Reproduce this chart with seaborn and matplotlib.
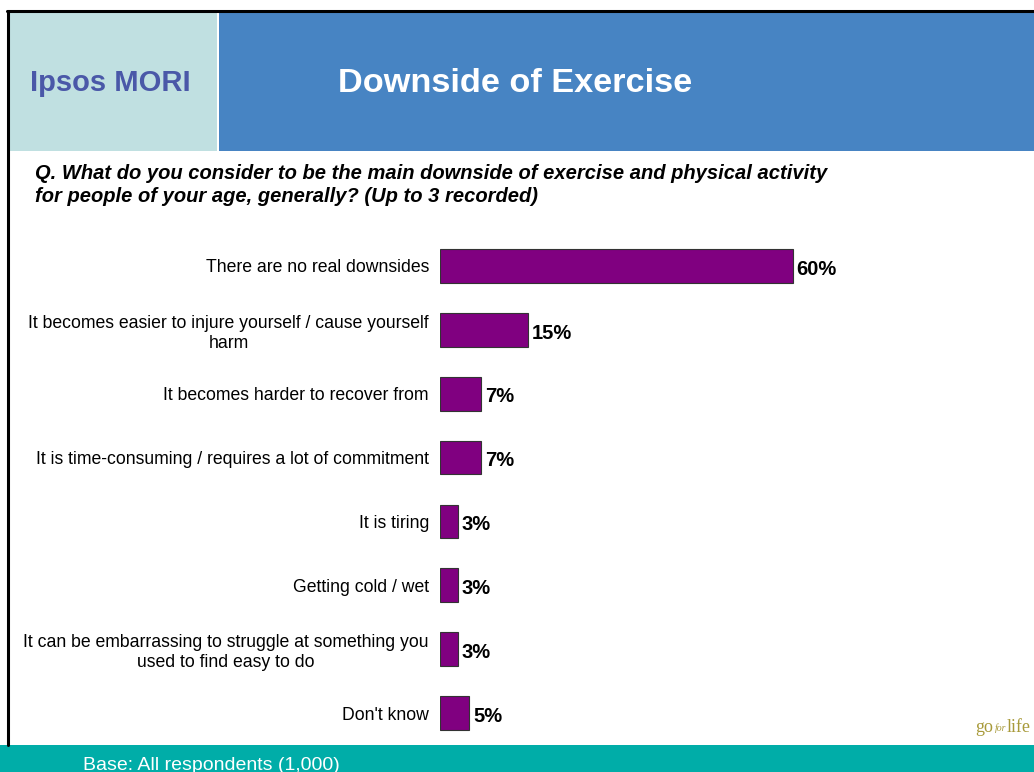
import pandas as pd
import seaborn as sns
import matplotlib.pyplot as plt
from matplotlib.patches import Rectangle
from matplotlib.lines import Line2D

# Data
answers = [
    "There are no real downsides",
    "It becomes easier to injure yourself / cause yourself\nharm",
    "It becomes harder to recover from",
    "It is time-consuming / requires a lot of commitment",
    "It is tiring",
    "Getting cold / wet",
    "It can be embarrassing to struggle at something you\nused to find easy to do",
    "Don't know",
]
percents = [60, 15, 7, 7, 3, 3, 3, 5]

df = pd.DataFrame({"Answer": answers, "Percent": percents})

sns.set_style("white")
plt.rcParams["font.family"] = ["Liberation Sans", "DejaVu Sans"]
plt.rcParams["text.color"] = "black"
plt.rcParams["ytick.labelcolor"] = "black"

W, H = 1034, 772
fig = plt.figure(figsize=(W / 100, H / 100), dpi=100)
fig.patch.set_facecolor("white")


def fx(px):
    return px / W


def fy(py):
    return 1 - py / H


# header panels
fig.patches.append(Rectangle((fx(9), fy(151)), fx(208), (139) / H,
                             transform=fig.transFigure, facecolor="#C0E0E1",
                             edgecolor="none", zorder=0))
fig.patches.append(Rectangle((fx(219), fy(151)), fx(W - 219), (139) / H,
                             transform=fig.transFigure, facecolor="#4784C3",
                             edgecolor="none", zorder=0))
# bottom band
fig.patches.append(Rectangle((0, 0), 1, (H - 745) / H,
                             transform=fig.transFigure, facecolor="#00ADA8",
                             edgecolor="none", zorder=0))
# border lines
fig.lines.append(Line2D([fx(7), 1], [fy(11), fy(11)], transform=fig.transFigure,
                        color="black", linewidth=2.2))
fig.lines.append(Line2D([fx(8), fx(8)], [fy(11), fy(745)], transform=fig.transFigure,
                        color="black", linewidth=2.2))

fig.text(fx(30), fy(83), "Ipsos MORI", color="#4A58A8", fontsize=21,
         fontweight="bold", va="center", ha="left")
fig.text(fx(338), fy(84), "Downside of Exercise", color="white", fontsize=24.7,
         fontweight="bold", va="center", ha="left")
fig.text(fx(35), fy(185),
         "Q. What do you consider to be the main downside of exercise and physical activity\n"
         "for people of your age, generally? (Up to 3 recorded)",
         fontsize=14.5, fontweight="bold", fontstyle="italic", va="center",
         ha="left", linespacing=1.3, color="black")
fig.text(fx(83), fy(765), "Base: All respondents (1,000)", color="white",
         fontsize=14, va="center", ha="left")
fig.text(fx(975), fy(727), "go", color="#A89A3A", fontsize=13,
         family="Liberation Serif", va="center", ha="left")
fig.text(fx(995), fy(728), "for", color="#A89A3A", fontsize=7,
         family="Liberation Serif", fontstyle="italic", va="center", ha="left")
fig.text(fx(1007), fy(727), "life", color="#A89A3A", fontsize=13,
         family="Liberation Serif", va="center", ha="left")

# chart axes
ax = fig.add_axes([fx(440), fy(745), fx(588), (745 - 234) / H])
sns.barplot(data=df, x="Percent", y="Answer", orient="h", color="#800080",
            width=0.53, edgecolor="#333333", linewidth=0.8, saturation=1, ax=ax)
ax.set_xlim(0, 100)
ax.set_ylim(7.5, -0.5)
ax.set_xlabel("")
ax.set_ylabel("")
ax.set_xticks([])
ax.tick_params(axis="y", length=0, pad=8, labelsize=12.7, labelcolor="black")
for lab in ax.get_yticklabels():
    lab.set_multialignment("center")
    lab.set_linespacing(1.25)
for s in ax.spines.values():
    s.set_visible(False)
ax.patch.set_alpha(0)

for i, v in enumerate(percents):
    ax.text(v + 0.6, i + 0.05, f"{v}%", va="center", ha="left", fontsize=14.5,
            fontweight="bold", color="black")

fig.savefig("out.png", dpi=100)
